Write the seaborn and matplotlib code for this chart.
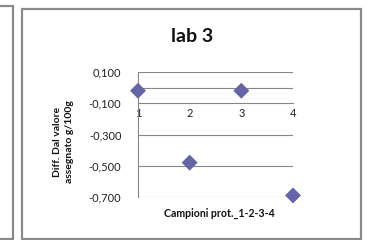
import matplotlib
matplotlib.use("Agg")
import matplotlib.pyplot as plt
from matplotlib.lines import Line2D
from matplotlib.patches import Rectangle
import seaborn as sns
import pandas as pd

# ---- data ----
samples = [1, 2, 3, 4]
diff_values = [-0.02, -0.48, -0.02, -0.69]
y_ticks = [0.1, -0.1, -0.3, -0.5, -0.7]
y_tick_labels = ["0,100", "-0,100", "-0,300", "-0,500", "-0,700"]
x_tick_labels = ["1", "2", "3", "4"]
title = "lab 3"
x_label = "Campioni prot._1-2-3-4"
y_label = "Diff. Dal valore\nassegnato g/100g"

df = pd.DataFrame({"sample": samples, "diff": diff_values})

sns.set_theme(style="white")
plt.rcParams["font.family"] = ["Lato", "DejaVu Sans"]

W, H = 367, 240
fig = plt.figure(figsize=(W / 100, H / 100), dpi=100)
fig.patch.set_facecolor("white")

def fx(px):
    return px / W

def fy(py):
    return (H - py) / H

grid_c = "#878787"
border_c = "#8a8a8a"

# chart borders
fig.add_artist(Rectangle((fx(21.5), fy(239)), fx(361) - fx(21.5), fy(8.5) - fy(239),
                         transform=fig.transFigure, fill=False, ec=border_c, lw=1.6))
fig.add_artist(Line2D([0, fx(13)], [fy(5.5), fy(5.5)], transform=fig.transFigure, color=border_c, lw=1.6))
fig.add_artist(Line2D([fx(13), fx(13)], [fy(5.5), fy(239)], transform=fig.transFigure, color=border_c, lw=1.6))
fig.add_artist(Line2D([0, fx(13)], [fy(239), fy(239)], transform=fig.transFigure, color=border_c, lw=1.6))

left, right, top, bottom = 138, 293, 72, 197
ax = fig.add_axes([fx(left), fy(bottom), fx(right) - fx(left), fy(top) - fy(bottom)])
ax.set_facecolor("none")

for yv in [0.1, 0.0, -0.3, -0.5, -0.7]:
    ax.axhline(yv, color=grid_c, lw=0.8, zorder=1)

sns.scatterplot(data=df, x="sample", y="diff", marker="D", s=66, color="#6464A6",
                edgecolor="none", ax=ax, zorder=5, clip_on=False, legend=False)

ax.set_xlim(1, 4)
ax.set_ylim(-0.7, 0.1)
for s in ["top", "right"]:
    ax.spines[s].set_visible(False)
ax.spines["bottom"].set_position(("data", -0.1))
ax.spines["bottom"].set_color(grid_c)
ax.spines["bottom"].set_linewidth(0.8)
ax.spines["left"].set_color(grid_c)
ax.spines["left"].set_linewidth(0.8)

ax.set_xticks(samples)
ax.set_xticklabels(x_tick_labels)
ax.set_yticks(y_ticks)
ax.set_yticklabels(y_tick_labels)
ax.tick_params(axis="x", direction="out", length=3, width=0.8, color=grid_c,
               labelsize=8, pad=0.5, labelcolor="#222222")
ax.tick_params(axis="y", length=0, labelsize=8, pad=12, labelcolor="#222222")
ax.set_xlabel("")
ax.set_ylabel("")

fig.text(fx(192.5), fy(37), title, ha="center", va="center", fontsize=14, fontweight="bold", color="#111111")
fig.text(fx(219), fy(213), x_label, ha="center", va="center", fontsize=7.6, fontweight="bold", color="#111111")
fig.text(fx(63.5), fy(142), y_label, ha="center", va="center", rotation=90, fontsize=7.5,
         fontweight="bold", color="#111111", linespacing=1.35, multialignment="center")

fig.savefig("out.png", dpi=100, facecolor="white")
